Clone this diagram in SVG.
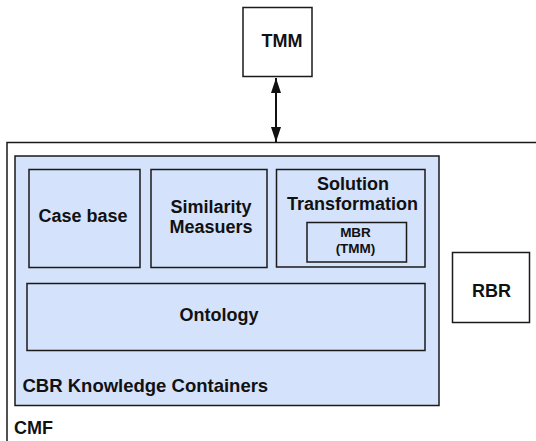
<svg xmlns="http://www.w3.org/2000/svg" width="536" height="441" viewBox="0 0 536 441">
<defs>
<style>
.box{fill:#ffffff;stroke:#1a1a1a;stroke-width:1.5}
.blue{fill:#d4e2fb;stroke:#1a1a1a;stroke-width:1.5}
.t{font-family:"Liberation Sans",Arial,Helvetica,sans-serif;font-weight:bold;font-size:18px;fill:#111}
.s{font-family:"Liberation Sans",Arial,Helvetica,sans-serif;font-weight:bold;font-size:13.5px;fill:#111}
.c{text-anchor:middle}
</style>
<marker id="ah" viewBox="0 0 15 10" refX="15" refY="5" markerWidth="15" markerHeight="10" markerUnits="userSpaceOnUse" orient="auto-start-reverse">
<path d="M0,0 L15,5 L0,10 z" fill="#111"/>
</marker>
</defs>
<rect width="536" height="441" fill="#ffffff"/>
<g id="cmf">
<rect class="box" x="7" y="142.5" width="545" height="320"/>
<text class="t" x="14" y="434">CMF</text>
</g>
<g id="cbr-containers">
<rect class="blue" x="15" y="156" width="424" height="249.5"/>
<text class="t" x="22.5" y="391.5" style="font-size:18.5px">CBR Knowledge Containers</text>
</g>
<g id="case-base">
<rect class="blue" x="29" y="169.5" width="111" height="98"/>
<text class="t c" x="83" y="222">Case base</text>
</g>
<g id="similarity">
<rect class="blue" x="151" y="169.5" width="116" height="98"/>
<text class="t c" x="211" y="213">Similarity</text>
<text class="t c" x="211" y="233">Measuers</text>
</g>
<g id="solution-transformation">
<rect class="blue" x="276.5" y="169.5" width="148.5" height="97.5"/>
<text class="t c" x="353" y="189.5">Solution</text>
<text class="t c" x="352.5" y="209.5">Transformation</text>
</g>
<g id="mbr">
<rect class="blue" x="307" y="222.5" width="99.5" height="39.5"/>
<text class="s c" x="355.5" y="237">MBR</text>
<text class="s c" x="355.5" y="252.5">(TMM)</text>
</g>
<g id="ontology">
<rect class="blue" x="27" y="283.5" width="398" height="67"/>
<text class="t c" x="219" y="321">Ontology</text>
</g>
<g id="rbr">
<rect class="box" x="452.5" y="252.5" width="77" height="70"/>
<text class="t c" x="491.5" y="297">RBR</text>
</g>
<g id="tmm">
<rect class="box" x="243" y="7.5" width="69" height="69"/>
<text class="t c" x="282" y="47">TMM</text>
</g>
<g id="connectors">
<line x1="276" y1="78" x2="276" y2="142" stroke="#111" stroke-width="2" marker-start="url(#ah)" marker-end="url(#ah)"/>
</g>
</svg>
